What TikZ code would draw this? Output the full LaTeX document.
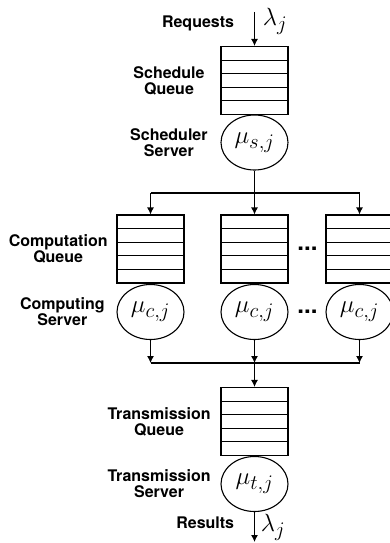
\documentclass[tikz,border=0pt]{standalone}
\usepackage{fontspec}
\setsansfont{TeX Gyre Heros}
\usetikzlibrary{positioning,shapes.geometric,arrows.meta}

\begin{document}
\begin{tikzpicture}[x=1pt,y=-1pt,line width=1.1pt,>={Latex[length=7pt,width=7pt]}]
	\def\cellh{13.6pt}
	
	\tikzstyle{queue}=[draw,rectangle,minimum width=67pt,minimum height=68pt,inner sep=0pt,
		path picture={\foreach \k in {1,...,4}
			\draw ([yshift=-\k*\cellh]path picture bounding box.north west) -- ([yshift=-\k*\cellh]path picture bounding box.north east);}]
	\tikzstyle{server}=[draw,ellipse,minimum width=67pt,minimum height=55pt,inner sep=0pt]
	\tikzstyle{rate}=[font=\fontsize{30}{30}\selectfont]
	\tikzstyle{annot}=[font=\sffamily\bfseries\fontsize{16}{16}\selectfont,align=center]
	\tikzstyle{more}=[font=\sffamily\bfseries\fontsize{24}{24}\selectfont,inner sep=0pt]
	
	\useasboundingbox (0,0) rectangle (390,543);
	
	% Scheduling stage
	\node[queue] (SQ) at (254.5,80.5) {};
	\node[server,rate] (SS) at (254.5,142.5) {$\mu_{s,j}$};
	\coordinate (in) at (254.5,12);
	\draw[->] (in) -- (SQ);
	\node[rate] (lam-in) at (275,21) {$\lambda_j$};
	\node[annot,anchor=east] (req) at (238,23) {Requests};
	\node[annot,left=12pt of SQ] {Schedule\\Queue};
	\node[annot,left=9pt of SS] {Scheduler\\Server};
	
	% Computation stage, one column per server
	\foreach \name / \x in {1/150.5,2/254.5,3/359.5} {
		\node[queue] (CQ-\name) at (\x,249) {};
		\node[server,rate] (CS-\name) at (\x,312) {$\mu_{c,j}$};
	}
	\node[more] (dots-q) at (307.5,249) {...};
	\node[more] (dots-s) at (307.5,312) {...};
	\node[annot,left=5pt of CQ-1] {Computation\\Queue};
	\node[annot,left=8pt of CS-1] {Computing\\Server};
	
	% Fan out from the scheduler to every computation queue
	\coordinate (split) at (254.5,193);
	\draw (SS) -- (split);
	\draw (CQ-1.north |- split) -- (CQ-3.north |- split);
	\foreach \name in {1,2,3}
	\draw[->] (CQ-\name.north |- split) -- (CQ-\name);
	
	% Collect the computing servers into the transmission queue
	\coordinate (join) at (254.5,363);
	\foreach \name in {1,2,3}
	\draw[->] (CS-\name) -- (CS-\name |- join);
	\draw (CS-1 |- join) -- (CS-3 |- join);
	
	% Transmission stage
	\node[queue] (TQ) at (254.5,421.5) {};
	\node[server,rate] (TS) at (254.5,484) {$\mu_{t,j}$};
	\draw[->] (join) -- (TQ);
	\coordinate (out) at (254.5,542);
	\draw[->] (TS) -- (out);
	\node[rate] (lam-out) at (273,527) {$\lambda_j$};
	\node[annot,anchor=east] (res) at (238,523) {Results};
	\node[annot,left=6pt of TQ] {Transmission\\Queue};
	\node[annot,left=6pt of TS] {Transmission\\Server};
\end{tikzpicture}
\end{document}
